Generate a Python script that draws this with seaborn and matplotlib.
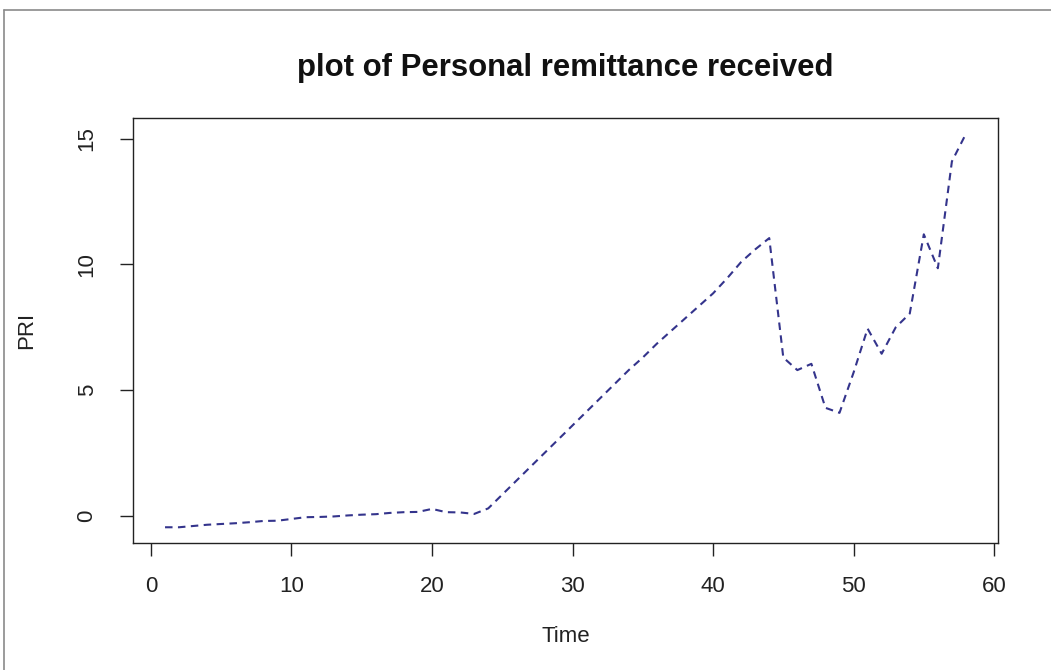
import numpy as np
import pandas as pd
import matplotlib
matplotlib.use("Agg")
import matplotlib.pyplot as plt
from matplotlib.lines import Line2D
import seaborn as sns

# values (time index 1..58)
time = list(range(1, 59))
pri = [-0.45, -0.45, -0.40, -0.35, -0.32, -0.29, -0.25, -0.20, -0.19, -0.12,
       -0.05, -0.04, -0.02, 0.02, 0.05, 0.07, 0.12, 0.15, 0.16, 0.28,
       0.15, 0.14, 0.08, 0.30, 0.85, 1.40, 1.95, 2.50, 3.05, 3.60,
       4.15, 4.70, 5.25, 5.80, 6.30, 6.85, 7.35, 7.85, 8.35, 8.85,
       9.45, 10.10, 10.60, 11.05, 6.30, 5.80, 6.05, 4.30, 4.10, 5.70,
       7.45, 6.45, 7.50, 8.05, 11.20, 9.85, 14.10, 15.20]
x_ticks = [0, 10, 20, 30, 40, 50, 60]
y_ticks = [0, 5, 10, 15]

title = "plot of Personal remittance received"
x_label = "Time"
y_label = "PRI"

sns.set_style("ticks")
plt.rcParams['font.family'] = ['Liberation Sans', 'DejaVu Sans']

df = pd.DataFrame({"Time": time, "PRI": pri})

fig = plt.figure(figsize=(10.51, 6.70), dpi=100)
ax = fig.add_axes([133 / 1051, 1 - 543 / 670, 865 / 1051, 425 / 670])

sns.lineplot(data=df, x="Time", y="PRI", ax=ax, color="#34348c", linewidth=1.5)
ax.lines[0].set_dashes((3.6, 2.6))

# R style 4% padding
span_x = max(time) - min(time)
span_y = max(pri) - min(pri)
ax.set_xlim(min(time) - 0.04 * span_x, max(time) + 0.04 * span_x)
ax.set_ylim(min(pri) - 0.04 * span_y, max(pri) + 0.04 * span_y)

ax.set_xticks(x_ticks)
ax.set_yticks(y_ticks)
ax.tick_params(axis="both", length=9.5, width=1.0, color="#222222",
               labelsize=16, labelcolor="#222222")
ax.tick_params(axis="x", pad=14)
ax.tick_params(axis="y", pad=16)
for lab in ax.get_yticklabels():
    lab.set_rotation(90)
    lab.set_va("center")

for sp in ax.spines.values():
    sp.set_visible(True)
    sp.set_color("#222222")
    sp.set_linewidth(1.0)

ax.set_title(title, fontsize=22.4, fontweight="bold", color="#111111",
             y=1 + (118 - 68) / 425, pad=0, va="center")

ax.set_xlabel(x_label, fontsize=16, color="#222222")
ax.xaxis.set_label_coords(0.5, -(636 - 543) / 425)
ax.xaxis.label.set_va("center")
ax.set_ylabel(y_label, fontsize=16, color="#222222")
ax.yaxis.set_label_coords(-(133 - 27) / 865, 0.5)
ax.yaxis.label.set_va("center")

# screenshot frame
fig.add_artist(Line2D([4 / 1051, 4 / 1051], [0, 1 - 10 / 670], color="#8a8a8a", lw=1.2))
fig.add_artist(Line2D([4 / 1051, 1], [1 - 10 / 670, 1 - 10 / 670], color="#8a8a8a", lw=1.2))

fig.savefig("out.png", dpi=100)
